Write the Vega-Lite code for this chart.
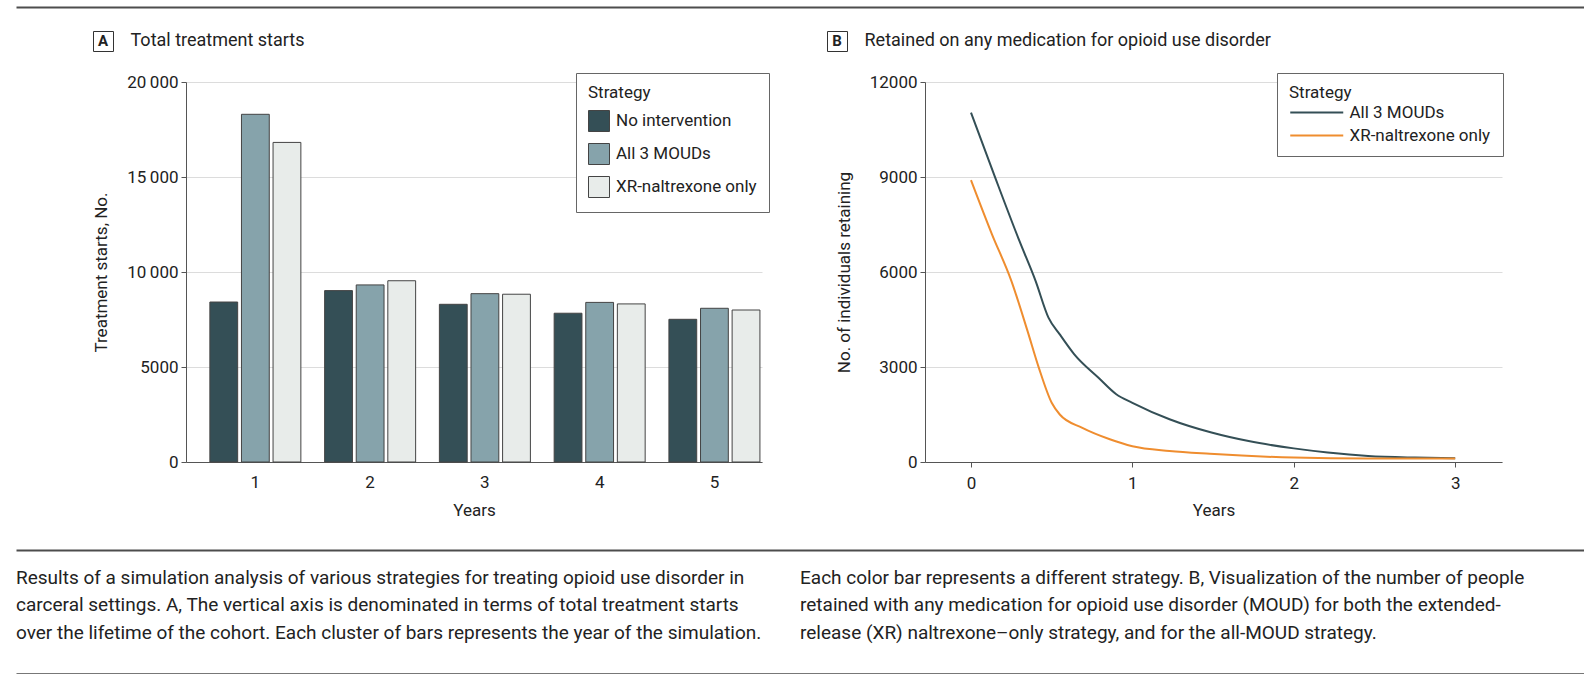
{
  "$schema": "https://vega.github.io/schema/vega-lite/v6.json",
  "description": "Treatment starts and retention on MOUD by strategy",
  "background": "white",
  "padding": {"left": 16, "top": 7, "right": 0, "bottom": 0},
  "spacing": 0,
  "datasets": {
    "blank": [{"k": 0}],
    "panelA": [{"label": "A", "title": "Total treatment starts"}],
    "panelB": [{"label": "B", "title": "Retained on any medication for opioid use disorder"}],
    "starts": [
      {"year": 1, "strategy": "No intervention", "starts": 8420},
      {"year": 1, "strategy": "All 3 MOUDs", "starts": 18300},
      {"year": 1, "strategy": "XR-naltrexone only", "starts": 16820},
      {"year": 2, "strategy": "No intervention", "starts": 9020},
      {"year": 2, "strategy": "All 3 MOUDs", "starts": 9320},
      {"year": 2, "strategy": "XR-naltrexone only", "starts": 9540},
      {"year": 3, "strategy": "No intervention", "starts": 8300},
      {"year": 3, "strategy": "All 3 MOUDs", "starts": 8860},
      {"year": 3, "strategy": "XR-naltrexone only", "starts": 8830},
      {"year": 4, "strategy": "No intervention", "starts": 7830},
      {"year": 4, "strategy": "All 3 MOUDs", "starts": 8400},
      {"year": 4, "strategy": "XR-naltrexone only", "starts": 8320},
      {"year": 5, "strategy": "No intervention", "starts": 7510},
      {"year": 5, "strategy": "All 3 MOUDs", "starts": 8090},
      {"year": 5, "strategy": "XR-naltrexone only", "starts": 8000}
    ],
    "retained": [
      {"strategy": "All 3 MOUDs", "t": 0, "n": 11030},
      {"strategy": "All 3 MOUDs", "t": 0.15, "n": 8980},
      {"strategy": "All 3 MOUDs", "t": 0.3, "n": 6980},
      {"strategy": "All 3 MOUDs", "t": 0.4, "n": 5720},
      {"strategy": "All 3 MOUDs", "t": 0.48, "n": 4560},
      {"strategy": "All 3 MOUDs", "t": 0.55, "n": 4030},
      {"strategy": "All 3 MOUDs", "t": 0.64, "n": 3400},
      {"strategy": "All 3 MOUDs", "t": 0.79, "n": 2660},
      {"strategy": "All 3 MOUDs", "t": 0.9, "n": 2140},
      {"strategy": "All 3 MOUDs", "t": 1.0, "n": 1870},
      {"strategy": "All 3 MOUDs", "t": 1.23, "n": 1350},
      {"strategy": "All 3 MOUDs", "t": 1.49, "n": 930},
      {"strategy": "All 3 MOUDs", "t": 1.72, "n": 660},
      {"strategy": "All 3 MOUDs", "t": 2.0, "n": 430},
      {"strategy": "All 3 MOUDs", "t": 2.21, "n": 300},
      {"strategy": "All 3 MOUDs", "t": 2.46, "n": 190},
      {"strategy": "All 3 MOUDs", "t": 2.75, "n": 140},
      {"strategy": "All 3 MOUDs", "t": 3.0, "n": 120},
      {"strategy": "XR-naltrexone only", "t": 0, "n": 8900},
      {"strategy": "XR-naltrexone only", "t": 0.13, "n": 7190},
      {"strategy": "XR-naltrexone only", "t": 0.25, "n": 5720},
      {"strategy": "XR-naltrexone only", "t": 0.35, "n": 4140},
      {"strategy": "XR-naltrexone only", "t": 0.42, "n": 2980},
      {"strategy": "XR-naltrexone only", "t": 0.5, "n": 1870},
      {"strategy": "XR-naltrexone only", "t": 0.55, "n": 1500},
      {"strategy": "XR-naltrexone only", "t": 0.69, "n": 1080},
      {"strategy": "XR-naltrexone only", "t": 0.86, "n": 720},
      {"strategy": "XR-naltrexone only", "t": 1.0, "n": 500},
      {"strategy": "XR-naltrexone only", "t": 1.23, "n": 350},
      {"strategy": "XR-naltrexone only", "t": 1.48, "n": 260},
      {"strategy": "XR-naltrexone only", "t": 2.0, "n": 140},
      {"strategy": "XR-naltrexone only", "t": 2.46, "n": 110},
      {"strategy": "XR-naltrexone only", "t": 3.0, "n": 110}
    ],
    "caption": [
      {"col": 0, "line": 1, "text": "Results of a simulation analysis of various strategies for treating opioid use disorder in"},
      {"col": 0, "line": 2, "text": "carceral settings. A, The vertical axis is denominated in terms of total treatment starts"},
      {"col": 0, "line": 3, "text": "over the lifetime of the cohort. Each cluster of bars represents the year of the simulation."},
      {"col": 1, "line": 1, "text": "Each color bar represents a different strategy. B, Visualization of the number of people"},
      {"col": 1, "line": 2, "text": "retained with any medication for opioid use disorder (MOUD) for both the extended-"},
      {"col": 1, "line": 3, "text": "release (XR) naltrexone–only strategy, and for the all-MOUD strategy."}
    ]
  },
  "config": {
    "font": "Roboto",
    "view": {"stroke": null},
    "axis": {
      "labelFont": "Roboto",
      "labelFontSize": 17,
      "labelColor": "#222",
      "titleFont": "Roboto",
      "titleFontSize": 17,
      "titleFontWeight": "normal",
      "titleColor": "#222",
      "domainColor": "#555",
      "tickColor": "#555",
      "tickSize": 5,
      "gridColor": "#dcdcdc",
      "labelPadding": 3
    },
    "legend": {
      "titleFont": "Roboto",
      "titleFontSize": 17,
      "titleFontWeight": "normal",
      "titleColor": "#222",
      "labelFont": "Roboto",
      "labelFontSize": 17,
      "labelColor": "#222",
      "strokeColor": "#666",
      "fillColor": "white",
      "padding": 12
    }
  },
  "resolve": {"scale": {"color": "independent"}, "legend": {"color": "independent"}},
  "vconcat": [
    {
      "data": {"name": "blank"},
      "width": 1568,
      "height": 1,
      "mark": {"type": "point", "opacity": 0, "size": 0, "strokeWidth": 0},
      "encoding": {
        "x": {
          "field": "k",
          "type": "quantitative",
          "scale": {"domain": [0, 1]},
          "axis": {"orient": "top", "labels": false, "ticks": false, "grid": false, "title": null, "domainWidth": 2, "domainColor": "#4d4d4d"}
        }
      }
    },
    {
      "data": {"name": "blank"},
      "width": 1,
      "height": 22,
      "mark": {"type": "point", "opacity": 0, "size": 0, "strokeWidth": 0},
      "encoding": {}
    },
    {
      "spacing": 16,
      "hconcat": [
        {
          "data": {"name": "blank"},
          "width": 60,
          "height": 1,
          "mark": {"type": "point", "opacity": 0, "size": 0, "strokeWidth": 0},
          "encoding": {}
        },
        {
          "data": {"name": "panelA"},
          "width": 20,
          "height": 20,
          "view": {"stroke": "#333", "strokeWidth": 1},
          "mark": {"type": "text", "fontWeight": "bold", "fontSize": 15, "color": "#222"},
          "encoding": {"text": {"field": "label"}}
        },
        {
          "data": {"name": "panelA"},
          "width": 1,
          "height": 20,
          "mark": {"type": "text", "align": "left", "baseline": "middle", "fontSize": 18, "color": "#222"},
          "encoding": {"text": {"field": "title"}}
        },
        {
          "data": {"name": "blank"},
          "width": 489,
          "height": 1,
          "mark": {"type": "point", "opacity": 0, "size": 0, "strokeWidth": 0},
          "encoding": {}
        },
        {
          "data": {"name": "panelB"},
          "width": 20,
          "height": 20,
          "view": {"stroke": "#333", "strokeWidth": 1},
          "mark": {"type": "text", "fontWeight": "bold", "fontSize": 15, "color": "#222"},
          "encoding": {"text": {"field": "label"}}
        },
        {
          "data": {"name": "panelB"},
          "width": 1,
          "height": 20,
          "mark": {"type": "text", "align": "left", "baseline": "middle", "fontSize": 18, "color": "#222"},
          "encoding": {"text": {"field": "title"}}
        }
      ]
    },
    {
      "data": {"name": "blank"},
      "width": 1,
      "height": 20,
      "mark": {"type": "point", "opacity": 0, "size": 0, "strokeWidth": 0},
      "encoding": {}
    },
    {
      "resolve": {"scale": {"color": "independent"}, "legend": {"color": "independent"}},
      "spacing": 65,
      "hconcat": [
        {
          "data": {"name": "blank"},
          "width": 11,
          "height": 1,
          "mark": {"type": "point", "opacity": 0, "size": 0, "strokeWidth": 0},
          "encoding": {}
        },
        {
          "data": {"name": "starts"},
          "width": 576,
          "height": 380,
          "mark": {"type": "bar", "stroke": "#444", "strokeWidth": 1},
          "encoding": {
            "x": {
              "field": "year",
              "type": "ordinal",
              "scale": {"paddingInner": 0.207, "paddingOuter": 0.113, "align": 0.92},
              "axis": {"title": "Years", "labelAngle": 0, "ticks": false, "labelPadding": 12, "titlePadding": 12}
            },
            "xOffset": {
              "field": "strategy",
              "type": "nominal",
              "sort": ["No intervention", "All 3 MOUDs", "XR-naltrexone only"],
              "scale": {"paddingInner": 0.12, "paddingOuter": 0}
            },
            "y": {
              "field": "starts",
              "type": "quantitative",
              "scale": {"domain": [0, 20000], "nice": false},
              "axis": {
                "title": "Treatment starts, No.",
                "values": [0, 5000, 10000, 15000, 20000],
                "labelExpr": "datum.value >= 10000 ? format(datum.value / 1000, 'd') + '\u2009000' : format(datum.value, 'd')",
                "grid": true,
                "titlePadding": 16
              }
            },
            "color": {
              "field": "strategy",
              "type": "nominal",
              "scale": {
                "domain": ["No intervention", "All 3 MOUDs", "XR-naltrexone only"],
                "range": ["#344f56", "#86a3ab", "#e8ecea"]
              },
              "legend": {
                "title": "Strategy",
                "orient": "none",
                "legendX": 390,
                "legendY": -9,
                "symbolType": "square",
                "symbolSize": 441,
                "symbolStrokeColor": "#444",
                "symbolStrokeWidth": 1,
                "symbolOpacity": 1,
                "rowPadding": 7,
                "titlePadding": 8,
                "labelOffset": 6
              }
            }
          }
        },
        {
          "data": {"name": "retained"},
          "width": 577,
          "height": 380,
          "mark": {"type": "line", "strokeWidth": 2, "interpolate": "monotone"},
          "encoding": {
            "x": {
              "field": "t",
              "type": "quantitative",
              "scale": {"domain": [-0.285, 3.29], "nice": false, "zero": false},
              "axis": {"title": "Years", "values": [0, 1, 2, 3], "format": "d", "grid": false, "labelPadding": 8, "titlePadding": 11}
            },
            "y": {
              "field": "n",
              "type": "quantitative",
              "scale": {"domain": [0, 12000], "nice": false},
              "axis": {
                "title": "No. of individuals retaining",
                "values": [0, 3000, 6000, 9000, 12000],
                "format": "d",
                "grid": true,
                "titlePadding": 16
              }
            },
            "color": {
              "field": "strategy",
              "type": "nominal",
              "scale": {
                "domain": ["All 3 MOUDs", "XR-naltrexone only"],
                "range": ["#344f56", "#ef8d2f"]
              },
              "legend": {
                "title": "Strategy",
                "orient": "none",
                "legendX": 352,
                "legendY": -9,
                "symbolType": "M-1,0L3,0",
                "symbolSize": 702,
                "symbolStrokeWidth": 2,
                "rowPadding": 0,
                "titlePadding": -4,
                "labelOffset": 31.5
              }
            }
          }
        }
      ]
    },
    {
      "data": {"name": "blank"},
      "width": 1,
      "height": 32,
      "mark": {"type": "point", "opacity": 0, "size": 0, "strokeWidth": 0},
      "encoding": {}
    },
    {
      "data": {"name": "caption"},
      "width": 1568,
      "height": 123,
      "mark": {"type": "text", "align": "left", "baseline": "middle", "fontSize": 19, "color": "#222", "font": "Roboto"},
      "encoding": {
        "x": {
          "field": "col",
          "type": "quantitative",
          "scale": {"domain": [0, 2], "nice": false, "zero": false},
          "axis": {"orient": "top", "labels": false, "ticks": false, "grid": false, "title": null, "domainWidth": 2, "domainColor": "#4d4d4d"}
        },
        "y": {
          "field": "line",
          "type": "quantitative",
          "scale": {"domain": [0, 4.47], "nice": false, "zero": false, "reverse": true},
          "axis": null
        },
        "text": {"field": "text"}
      }
    },
    {
      "data": {"name": "blank"},
      "width": 1568,
      "height": 1,
      "mark": {"type": "point", "opacity": 0, "size": 0, "strokeWidth": 0},
      "encoding": {
        "x": {
          "field": "k",
          "type": "quantitative",
          "scale": {"domain": [0, 1]},
          "axis": {"orient": "top", "labels": false, "ticks": false, "grid": false, "title": null, "domainWidth": 1, "domainColor": "#777"}
        }
      }
    }
  ]
}
